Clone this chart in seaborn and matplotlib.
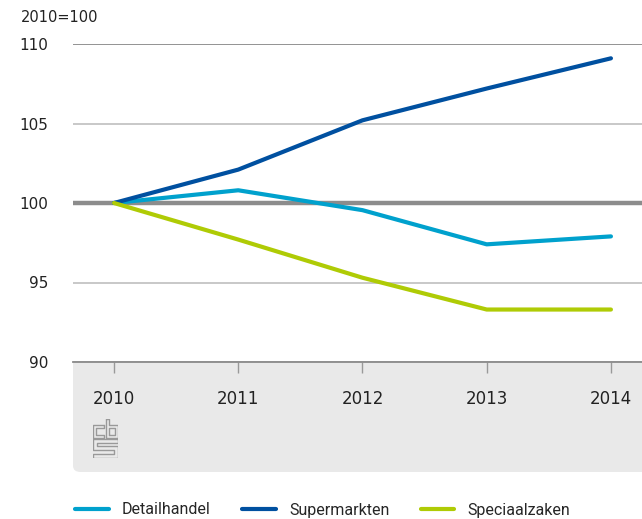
import matplotlib
matplotlib.use("Agg")
from matplotlib import pyplot as plt
from matplotlib.patches import FancyBboxPatch
import seaborn as sns
import pandas as pd

years = [2010, 2011, 2012, 2013, 2014]
detailhandel = [100.0, 100.8, 99.55, 97.4, 97.9]
supermarkten = [100.0, 102.1, 105.2, 107.2, 109.1]
speciaalzaken = [100.0, 97.7, 95.3, 93.3, 93.3]
series_names = ["Detailhandel", "Supermarkten", "Speciaalzaken"]
colors = ["#00a1cd", "#0050a0", "#afcb05"]
y_ticks = [90, 95, 100, 105, 110]

data = pd.DataFrame({
    "jaar": years * 3,
    "index": detailhandel + supermarkten + speciaalzaken,
    "reeks": [n for n in series_names for _ in years],
})

sns.set_style("white")
plt.rcParams["font.family"] = ["DejaVu Sans"]

W, H = 642, 519
fig = plt.figure(figsize=(W / 100, H / 100), dpi=100)

# grey panel behind the x axis labels
panel = FancyBboxPatch((73 / W, 1 - 472 / H), 600 / W, 150 / H,
                       boxstyle="round,pad=0,rounding_size=0.012",
                       transform=fig.transFigure, facecolor="#e9e9e9",
                       edgecolor="none", zorder=-10)
fig.patches.append(panel)

ax = fig.add_axes([73 / W, 1 - 362 / H, 569 / W, 318 / H])
ax.set_facecolor("white")

for y in y_ticks:
    if y == 100:
        continue
    c = "#8a8a8a" if y == 110 else "#c4c4c4"
    ax.axhline(y, color=c, lw=1.3, zorder=1)
ax.axhline(100, color="#8c8c8c", lw=3.2, zorder=1)

sns.lineplot(data=data, x="jaar", y="index", hue="reeks", palette=colors,
             hue_order=series_names, lw=3, ax=ax, zorder=3, legend=True)

ax.set_xlim(2009.67, 2014.25)
ax.set_ylim(90, 110)
ax.set_yticks(y_ticks)
ax.set_yticklabels([str(v) for v in y_ticks])
ax.set_xticks(years)
ax.set_xticklabels([str(v) for v in years])
ax.set_xlabel("")
ax.set_ylabel("")
for s in ["top", "right", "left"]:
    ax.spines[s].set_visible(False)
ax.spines["bottom"].set_color("#8a8a8a")
ax.spines["bottom"].set_linewidth(1.3)
ax.tick_params(axis="y", left=False, length=0, pad=18, labelsize=11,
               labelcolor="#222222")
ax.tick_params(axis="x", bottom=True, direction="out", length=8, width=1,
               color="#999999", pad=12, labelsize=12, labelcolor="#222222")

fig.text(21 / W, 1 - 18 / H, "2010=100", fontsize=10.5, color="#222222",
         va="center", ha="left")

handles, labels = ax.get_legend_handles_labels()
ax.get_legend().remove()
leg = fig.legend(handles, labels, loc="center left", ncol=3, frameon=False,
                 bbox_to_anchor=(75 / W, 1 - 510 / H), borderaxespad=0,
                 borderpad=0, handlelength=2.1, handletextpad=0.85,
                 columnspacing=1.95, prop={"family": "Roboto", "size": 11.5})
for h in leg.get_lines():
    h.set_linewidth(3)

# small cbs logo
lg = fig.add_axes([93 / W, 1 - 458 / H, 25 / W, 39 / H])
lg.set_xlim(-0.5, 25.5)
lg.set_ylim(-0.5, 39.5)
lg.axis("off")
logo_paths = [
    [(11, 33), (0, 33), (0, 20), (11, 20), (11, 23), (3, 23), (3, 30),
     (11, 30), (11, 33)],
    [(13, 39), (16, 39), (16, 33), (25, 33), (25, 20), (13, 20), (13, 39)],
    [(16, 23), (22, 23), (22, 30), (16, 30), (16, 23)],
    [(25, 19), (0, 19), (0, 8), (21, 8), (21, 4), (0, 4), (0, 0), (25, 0),
     (25, 12), (4, 12), (4, 15), (25, 15), (25, 19)],
]
for p in logo_paths:
    xs, ys = zip(*p)
    lg.plot(xs, ys, color="#999999", lw=1.0)

plt.savefig("out.png", dpi=100)
